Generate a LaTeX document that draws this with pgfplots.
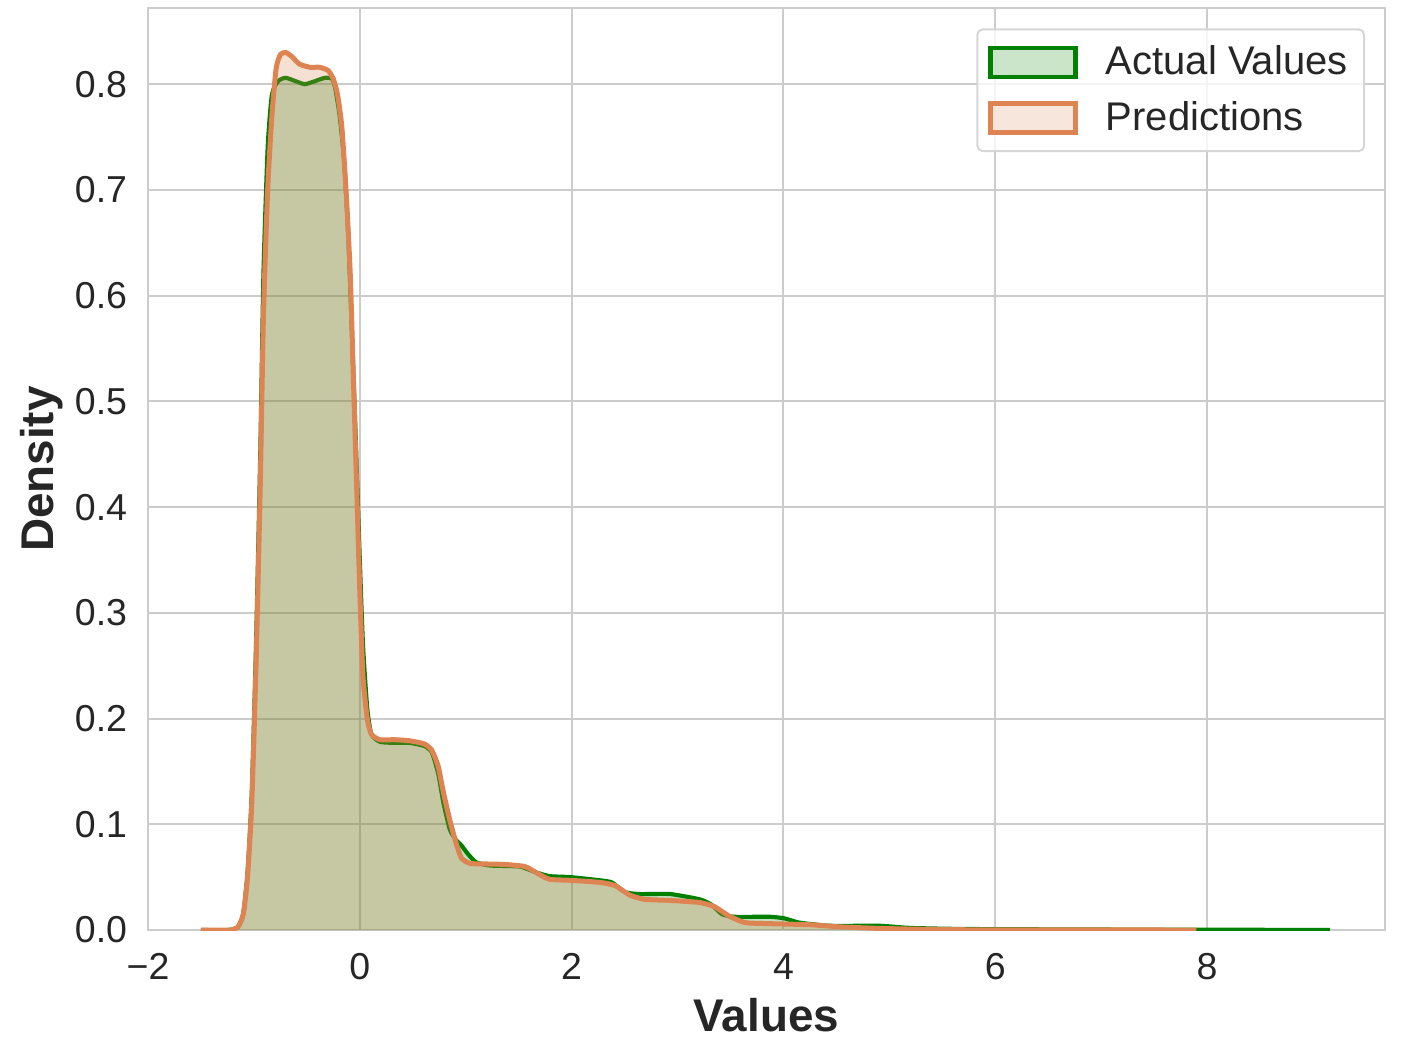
\documentclass[border=0pt]{standalone}
\usepackage{pgfplots}
\usepackage{pgfplotstable}
\pgfplotsset{compat=1.18}
\usepackage{fontspec}
\setmainfont{Liberation Sans}

\definecolor{kdegreen}{RGB}{0,128,0}
\definecolor{kdeorange}{RGB}{221,132,82}
\definecolor{gridgray}{RGB}{204,204,204}
\definecolor{textgray}{RGB}{38,38,38}

% KDE of the actual values
\pgfplotstableread{
x y
-1.50 0
-1.23 0
-1.15 0.003
-1.10 0.016
-1.06 0.055
-1.02 0.13
-0.98 0.27
-0.94 0.45
-0.91 0.62
-0.87 0.74
-0.83 0.79
-0.77 0.803
-0.70 0.806
-0.61 0.803
-0.52 0.800
-0.42 0.803
-0.33 0.806
-0.26 0.805
-0.23 0.795
-0.19 0.77
-0.15 0.73
-0.11 0.66
-0.08 0.58
-0.04 0.47
0.00 0.35
0.03 0.27
0.07 0.21
0.11 0.185
0.19 0.178
0.33 0.177
0.47 0.177
0.61 0.174
0.68 0.168
0.74 0.148
0.79 0.12
0.85 0.095
0.91 0.085
0.96 0.080
1.02 0.072
1.10 0.064
1.23 0.061
1.51 0.060
1.65 0.055
1.79 0.051
1.99 0.050
2.27 0.047
2.38 0.045
2.50 0.036
2.64 0.034
2.93 0.034
3.21 0.029
3.32 0.024
3.42 0.015
3.54 0.0125
3.87 0.0125
4.01 0.011
4.15 0.007
4.44 0.004
4.91 0.004
5.19 0.002
5.67 0.001
6.52 0.0006
7.46 0.0003
8.40 0.0002
9.16 0
}\actual

% KDE of the predictions
\pgfplotstableread{
x y
-1.50 0
-1.23 0
-1.15 0.003
-1.10 0.015
-1.06 0.05
-1.02 0.12
-0.98 0.25
-0.94 0.42
-0.91 0.58
-0.87 0.70
-0.83 0.77
-0.79 0.815
-0.75 0.828
-0.70 0.830
-0.64 0.826
-0.57 0.819
-0.47 0.816
-0.38 0.816
-0.30 0.813
-0.25 0.805
-0.21 0.79
-0.17 0.76
-0.13 0.70
-0.09 0.62
-0.06 0.52
-0.03 0.42
0.00 0.32
0.03 0.24
0.07 0.20
0.11 0.185
0.19 0.180
0.33 0.180
0.47 0.179
0.61 0.176
0.68 0.170
0.74 0.155
0.79 0.13
0.85 0.104
0.91 0.082
0.96 0.068
1.04 0.063
1.18 0.0625
1.37 0.062
1.56 0.060
1.67 0.054
1.79 0.048
1.99 0.047
2.27 0.045
2.41 0.042
2.55 0.033
2.69 0.029
2.93 0.028
3.21 0.026
3.35 0.022
3.49 0.013
3.64 0.007
3.87 0.006
4.25 0.005
4.53 0.003
4.91 0.0015
5.43 0.0005
6.04 0.0001
7.90 0
}\predicted

\begin{document}
\begin{tikzpicture}
\begin{axis}[
  scale only axis,
  width=445.3pt, height=331.9pt,
  xmin=-2, xmax=9.68, ymin=0, ymax=0.872,
  xtick={-2,0,2,4,6,8},
  xticklabels={−2,0,2,4,6,8},
  ytick={0,0.1,...,0.8},
  yticklabel style={/pgf/number format/fixed,/pgf/number format/fixed zerofill,/pgf/number format/precision=1},
  /pgf/number format/assume math mode=true,
  tick label style={font=\fontsize{13.5}{16}\selectfont, text=textgray},
  major tick length=0pt,
  xticklabel style={yshift=-5pt},
  yticklabel style={xshift=-4pt},
  grid=major,
  grid style={gridgray, line width=0.7pt},
  axis line style={gridgray, line width=0.8pt},
  xlabel={\textbf{Values}},
  ylabel={\textbf{Density}},
  label style={font=\fontsize{16.5}{19}\selectfont, text=textgray},
  xlabel style={at={(axis description cs:0.5,-0.092)}, anchor=center},
  ylabel style={at={(axis description cs:-0.0857,0.5)}, anchor=center},
  legend style={at={(0.984,0.978)}, anchor=north east, draw=gridgray!80, line width=0.7pt,
    rounded corners=2pt, fill=white, fill opacity=0.8, text opacity=1,
    font=\fontsize{14.4}{17}\selectfont, text=textgray,
    inner xsep=4pt, inner ysep=4pt, row sep=4pt},
  legend cell align=left,
  legend image code/.code={\draw[#1, sharp corners] (0pt,-5.2pt) rectangle (30.6pt,5.2pt);},
]
\addlegendimage{draw=kdegreen, line width=1.7pt, fill=kdegreen!25}
\addlegendentry{\hspace{8pt}Actual Values}
\addlegendimage{draw=kdeorange, line width=1.7pt, fill=kdeorange!25}
\addlegendentry{\hspace{8pt}Predictions}

\addplot[forget plot, draw=none, fill=kdegreen, fill opacity=0.25, smooth, tension=0.35] table {\actual} \closedcycle;
\addplot[forget plot, kdegreen, line width=1.5pt, smooth, tension=0.35] table {\actual};
\addplot[forget plot, draw=none, fill=kdeorange, fill opacity=0.25, smooth, tension=0.35] table {\predicted} \closedcycle;
\addplot[forget plot, kdeorange, line width=1.8pt, smooth, tension=0.35] table {\predicted};
\end{axis}
\path (-53.28pt,-46.08pt) rectangle (452.52pt,334.8pt);
\end{tikzpicture}
\end{document}
